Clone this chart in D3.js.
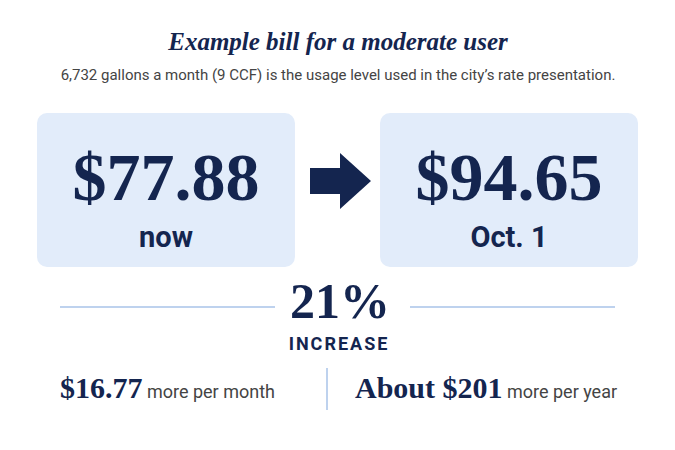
<!DOCTYPE html>
<html><head><meta charset="utf-8">
<script src="https://cdn.jsdelivr.net/npm/d3@7"></script>
<style>body{margin:0;background:#fff}</style></head>
<body><svg id="c" width="675" height="450"></svg>
<script>
const periods = ["now", "Oct. 1"];
const bills = [77.88, 94.65];
const increasePct = ["21%"];
const extras = [{lead:"$16.77", rest:" more per month"},{lead:"About $201", rest:" more per year"}];
const title = "Example bill for a moderate user";
const subtitle = "6,732 gallons a month (9 CCF) is the usage level used in the city\u2019s rate presentation.";

const navy = "#14254f", serif = "Liberation Serif, DejaVu Serif, serif", sans = "Roboto, 'Open Sans', sans-serif";
const svg = d3.select("#c");
svg.append("text").attr("x",338).attr("y",50).attr("text-anchor","middle")
  .attr("font-family",serif).attr("font-style","italic").attr("font-weight","bold")
  .attr("font-size",25).attr("fill",navy).text(title);
svg.append("text").attr("x",338).attr("y",80).attr("text-anchor","middle")
  .attr("font-family",sans).attr("font-size",15).attr("fill","#444").text(subtitle);

const x = d3.scaleBand().domain(periods).range([37,638]).paddingInner(0.248);
const g = svg.selectAll("g.box").data(periods).join("g").attr("transform",d=>`translate(${x(d)},113)`);
g.append("rect").attr("width",x.bandwidth()).attr("height",154).attr("rx",10).attr("fill","#e2ecfa");
g.append("text").attr("x",x.bandwidth()/2).attr("y",87).attr("text-anchor","middle")
  .attr("font-family",serif).attr("font-weight","bold").attr("font-size",68).attr("fill",navy)
  .text((d,i)=>"$"+d3.format(".2f")(bills[i]));
g.append("text").attr("x",x.bandwidth()/2).attr("y",134).attr("text-anchor","middle")
  .attr("font-family",sans).attr("font-weight","bold").attr("font-size",29).attr("fill",navy).text(d=>d);

svg.append("path").attr("d","M310,168 L340,168 L340,153 L371,181 L340,209 L340,194 L310,194 Z").attr("fill",navy);

svg.append("line").attr("x1",60).attr("x2",275).attr("y1",307).attr("y2",307).attr("stroke","#a9c3e8").attr("stroke-width",1.5);
svg.append("line").attr("x1",410).attr("x2",615).attr("y1",307).attr("y2",307).attr("stroke","#a9c3e8").attr("stroke-width",1.5);
svg.append("text").attr("x",340).attr("y",318).attr("text-anchor","middle").attr("font-family",serif)
  .attr("font-weight","bold").attr("font-size",50).attr("fill",navy).text(increasePct[0]);
svg.append("text").attr("x",339).attr("y",350).attr("text-anchor","middle").attr("font-family",sans)
  .attr("font-weight","bold").attr("font-size",18).attr("letter-spacing",2).attr("fill",navy).text("INCREASE");

const ex = [60, 355];
extras.forEach((e,i)=>{
  const t = svg.append("text").attr("x",ex[i]).attr("y",398);
  t.append("tspan").attr("font-family",serif).attr("font-weight","bold").attr("font-size",30).attr("fill",navy).text(e.lead);
  t.append("tspan").attr("font-family",sans).attr("font-size",18).attr("fill","#444").text(e.rest);
});
svg.append("line").attr("x1",327).attr("x2",327).attr("y1",368).attr("y2",410).attr("stroke","#a9c3e8").attr("stroke-width",1.5);
</script></body></html>
